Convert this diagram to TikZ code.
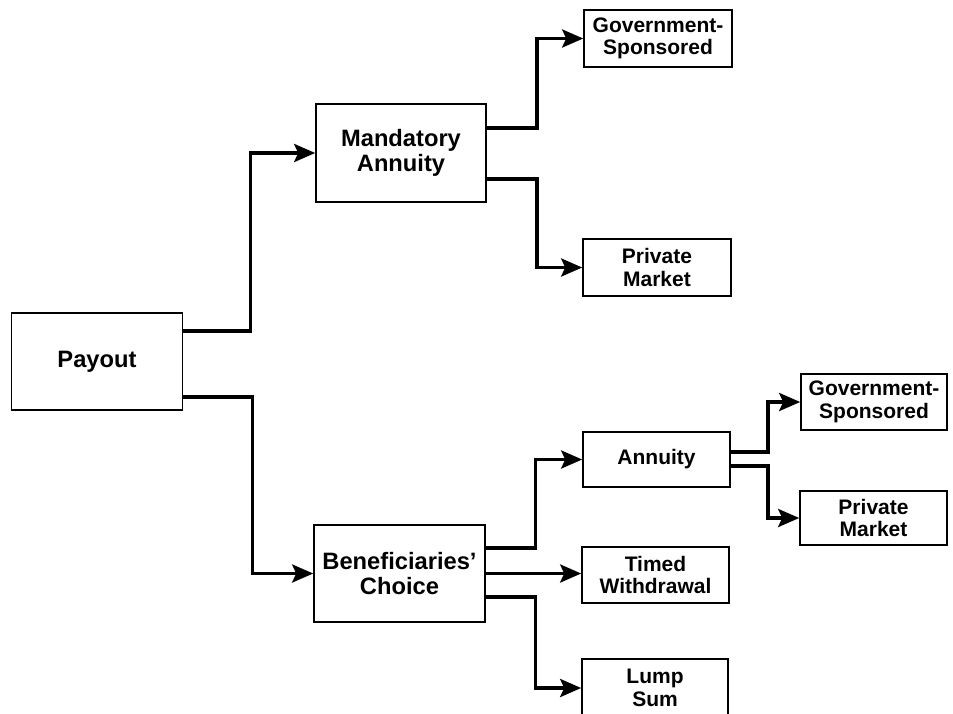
\documentclass[tikz,border=0pt]{standalone}
\usepackage{fontspec}
\setmainfont{Liberation Sans}
\usetikzlibrary{arrows.meta}
\tikzset{
	box/.style={draw, line width=1.6pt, align=center, inner sep=0pt,
		font=\bfseries\fontsize{21}{22.5}\selectfont,
		minimum width=147pt, minimum height=56pt},
	bigbox/.style={box, font=\bfseries\fontsize{23.7}{24.5}\selectfont,
		minimum width=171pt, minimum height=97pt},
	conn/.style={line width=3.5pt, -{Stealth[length=21pt, width=18pt, inset=4pt]}},
}
\begin{document}
\begin{tikzpicture}[x=1pt, y=-1pt]
		\useasboundingbox (0,0) rectangle (953,713);
		% first level
		\node[bigbox] (payout) at (97,361.5) {Payout};
		\node[bigbox, minimum width=170pt, minimum height=98pt] (mandAnn) at (401,153) {Mandatory\\Annuity};
		\node[bigbox] (benefChoice) at (399.5,573.5) {Beneficiaries'\\Choice};
		% second level
		\node[box, minimum width=148pt, minimum height=57pt] (govTop) at (658,38.5) {Government-\\Sponsored};
		\node[box, minimum width=148pt, minimum height=57pt] (privTop) at (657,267.5) {Private\\Market};
		\node[box, minimum height=55pt] (annuity) at (656.5,459.5) {Annuity};
		\node[box] (timed) at (655.5,575) {Timed\\Withdrawal};
		\node[box, minimum width=146pt, minimum height=58pt] (lump) at (655,688) {Lump\\Sum};
		% third level
		\node[box, minimum width=146pt] (govRight) at (874,402) {Government-\\Sponsored};
		\node[box, minimum height=54pt] (privRight) at (873.5,518) {Private\\Market};

		\draw[conn] ([yshift=30.5pt]payout.east) -- ++(67,0) |- (mandAnn.west);
		\draw[conn] ([yshift=-35.5pt]payout.east) -- ++(69,0) |- (benefChoice.west);

		\draw[conn] ([yshift=25pt]mandAnn.east) -- ++(50,0) |- (govTop.west);
		\draw[conn] ([yshift=-26pt]mandAnn.east) -- ++(50,0) |- (privTop.west);

		\draw[conn] ([yshift=25.5pt]benefChoice.east) -- ++(49.5,0) |- (annuity.west);
		\draw[conn] (benefChoice.east) -- (benefChoice.east -| timed.west);
		\draw[conn] ([yshift=-23.5pt]benefChoice.east) -- ++(49.5,0) |- (lump.west);

		\draw[conn] ([yshift=7.5pt]annuity.east) -- ++(37,0) |- (govRight.west);
		\draw[conn] ([yshift=-6.5pt]annuity.east) -- ++(37,0) |- (privRight.west);
	\end{tikzpicture}
\end{document}
